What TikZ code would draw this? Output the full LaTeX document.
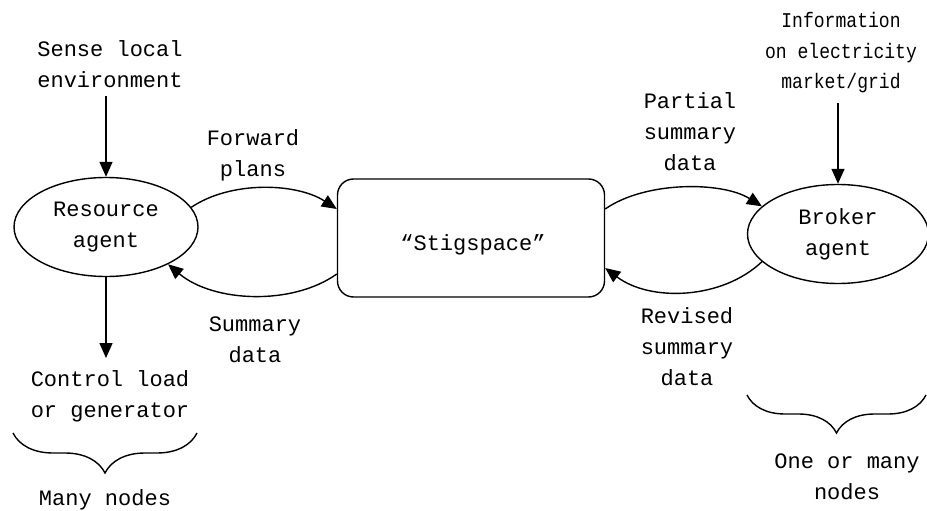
\documentclass[tikz,border=0pt]{standalone}
\usepackage{fontspec}
\setmainfont{Liberation Mono}
\newfontfamily\narrowmono[FakeStretch=0.86]{Liberation Mono}
\usetikzlibrary{arrows.meta,decorations.pathreplacing,shapes.geometric}
\begin{document}
\begin{tikzpicture}[x=1pt,y=-1pt,
  lbl/.style={align=center,font=\fontsize{22}{31}\selectfont,inner sep=0pt},
  agent/.style={draw,line width=1.4pt,ellipse,minimum width=184pt,minimum height=99pt,inner sep=0pt,align=center,font=\fontsize{22}{31}\selectfont},
  spacebox/.style={draw,line width=1.4pt,rounded corners=16pt,minimum width=267pt,minimum height=118pt,inner sep=0pt},
  arr/.style={line width=1.4pt,-{Triangle[length=15pt,width=13pt]}},
  bracestyle/.style={line width=1.4pt,decorate,decoration={brace,mirror,amplitude=40pt}}]
\useasboundingbox (0,0) rectangle (927,511);
\node[agent] (res) at (106,227) {Resource\\agent};
\node[spacebox] (box) at (471,238) {};
\node[lbl] (stig) at (473,245) {“Stigspace”};
\node[agent,minimum width=181pt] (brk) at (838,234) {Broker\\agent};
\node[lbl] (sense) at (110,64) {Sense local\\environment};
\node[lbl] (fwd) at (253,155) {Forward\\plans};
\node[lbl] (sum) at (255,340) {Summary\\data};
\node[lbl] (ctrl) at (110,396) {Control load\\or generator};
\node[lbl] (many) at (105,500) {Many nodes};
\node[lbl] (part) at (690,132) {Partial\\summary\\data};
\node[lbl,font=\narrowmono\fontsize{21}{30.5}\selectfont] (info) at (841,53) {Information\\on electricity\\market/grid};
\node[lbl] (rev) at (687,347) {Revised\\summary\\data};
\node[lbl] (one) at (847,477) {One or many\\nodes};
\coordinate (sa) at (res.north |- sense.south);
\coordinate (ca) at (res.south |- ctrl.north);
\coordinate (ia) at (brk.north |- info.south);
\draw[arr] ([yshift=-8pt]sa) -- (res.north);
\draw[arr] (res.south) -- ([yshift=12pt]ca);
\draw[arr] ([yshift=-10pt]ia) -- (brk.north);
\draw[arr] (res.13) .. controls +(40,-27) and +(-40,-26) .. ([yshift=29pt]box.west);
\draw[arr] ([yshift=-36pt]box.west) .. controls +(-45,32) and +(45,38) .. (res.-31);
\draw[arr] ([yshift=29pt]box.east) .. controls +(40,-28) and +(-40,-25) .. (brk.160);
\draw[arr] (brk.200) .. controls +(-40,38) and +(45,34) .. ([yshift=-30pt]box.east);
\draw[bracestyle] (13,433) -- (197,433);
\draw[bracestyle,decoration={brace,mirror,amplitude=38pt}] (747,395) -- (926,395);
\end{tikzpicture}
\end{document}
